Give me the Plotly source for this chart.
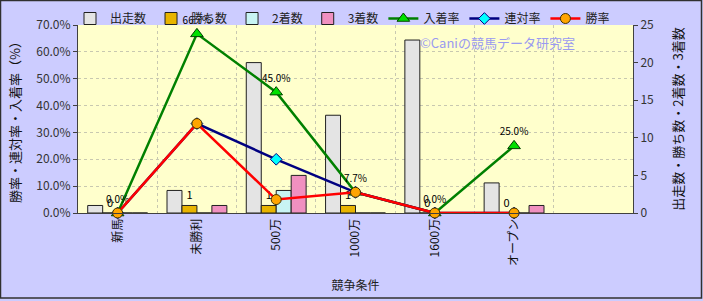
import plotly.graph_objects as go

categories = ["新馬", "未勝利", "500万", "1000万", "1600万", "オープン", " "]
starts = [1, 3, 20, 13, 23, 4]
wins = [0, 1, 1, 1, 0, 0]
seconds = [0, 0, 3, 0, 0, 0]
thirds = [0, 1, 5, 0, 0, 1]
place_rate = [0.0, 66.7, 45.0, 7.7, 0.0, 25.0]
rentai_rate = [0.0, 33.3, 20.0, 7.7, 0.0, 0.0]
win_rate = [0.0, 33.3, 5.0, 7.7, 0.0, 0.0]

cats = categories[:6]
FONT = "Noto Sans CJK JP"
W, H = 703, 301
L, R, T, B = 78, 70, 25, 88
PW, PH = W - L - R, H - T - B

def px_x(px):
    return (px - L) / PW

def px_y(py):
    return (H - B - py) / PH

bar_line = dict(color="#202020", width=1)

fig = go.Figure()

# invisible anchor trace so that the base (percentage) subplot exists
fig.add_trace(go.Scatter(x=cats, y=place_rate, yaxis="y", mode="none",
                         showlegend=False, hoverinfo="skip"))

fig.add_trace(go.Bar(x=cats, y=starts, name="出走数", yaxis="y2",
                     marker=dict(color="#E4E4E4", line=bar_line)))
fig.add_trace(go.Bar(x=cats, y=wins, name="勝ち数", yaxis="y2",
                     marker=dict(color="#E8B400", line=bar_line),
                     text=[str(v) for v in wins], textposition="outside",
                     textfont=dict(size=11, color="black", family=FONT),
                     cliponaxis=False))
fig.add_trace(go.Bar(x=cats, y=seconds, name="2着数", yaxis="y2",
                     marker=dict(color="#C8F4F4", line=bar_line)))
fig.add_trace(go.Bar(x=cats, y=thirds, name="3着数", yaxis="y2",
                     marker=dict(color="#F090C0", line=bar_line)))

fig.add_trace(go.Scatter(x=cats, y=place_rate, name="入着率", yaxis="y3",
                         mode="lines+markers+text",
                         line=dict(color="#008000", width=2.5),
                         marker=dict(symbol="triangle-up", size=11, color="#00E000",
                                     line=dict(color="#004000", width=1)),
                         text=[f"{v:.1f}%" for v in place_rate],
                         textposition="top center",
                         textfont=dict(size=10, color="black", family=FONT),
                         cliponaxis=False))
fig.add_trace(go.Scatter(x=cats, y=rentai_rate, name="連対率", yaxis="y3",
                         mode="lines+markers",
                         line=dict(color="#000080", width=2.5),
                         marker=dict(symbol="diamond", size=9, color="#00FFFF",
                                     line=dict(color="#000080", width=1)),
                         cliponaxis=False))
fig.add_trace(go.Scatter(x=cats, y=win_rate, name="勝率", yaxis="y3",
                         mode="lines+markers",
                         line=dict(color="#FF0000", width=2.5),
                         marker=dict(symbol="circle", size=10, color="#FFA500",
                                     line=dict(color="#403000", width=1)),
                         cliponaxis=False))

fig.update_layout(
    width=W, height=H,
    margin=dict(l=L, r=R, t=T, b=B, pad=0, autoexpand=False),
    paper_bgcolor="#CCCCFF",
    plot_bgcolor="#FFFFCC",
    font=dict(family=FONT, size=11, color="#222222"),
    barmode="group", bargap=0.245, bargroupgap=0,
    showlegend=True,
    legend=dict(orientation="h", x=px_x(70), xanchor="left",
                y=px_y(4), yanchor="top",
                bgcolor="rgba(0,0,0,0)", font=dict(size=12, color="#222222", family=FONT),
                itemwidth=30, tracegroupgap=0, traceorder="normal"),
    xaxis=dict(type="category", categoryorder="array", categoryarray=categories,
               range=[-0.5, 6.5], tickson="boundaries", ticks="", ticklen=0,
               showgrid=True, gridcolor="#C8C8B0", griddash="dot", gridwidth=1,
               showline=True, linecolor="#404040", linewidth=1,
               tickangle=-90, tickfont=dict(size=12, color="#111111"),
               title=dict(text="競争条件", font=dict(size=12, color="#222222"), standoff=16)),
    yaxis=dict(range=[0, 70], dtick=10, tickformat=".1f", ticksuffix="%",
               showgrid=True, gridcolor="#C8C8B0", griddash="dot", gridwidth=1,
               showline=True, linecolor="#404040", linewidth=1,
               ticks="outside", ticklen=4, tickcolor="#404040",
               zeroline=False, tickfont=dict(size=12, color="#333333"),
               title=dict(text="勝率・連対率・入着率（%）", font=dict(size=13, color="#111111"), standoff=12)),
    yaxis2=dict(range=[0, 25], dtick=5, overlaying="y", side="right",
                showgrid=False, zeroline=False,
                showline=True, linecolor="#404040", linewidth=1,
                ticks="outside", ticklen=4, tickcolor="#404040",
                tickfont=dict(size=12, color="#333333"),
                title=dict(text="出走数・勝ち数・2着数・3着数", font=dict(size=13, color="#111111"), standoff=20)),
    yaxis3=dict(range=[0, 70], overlaying="y", visible=False, showgrid=False, zeroline=False),
    annotations=[dict(text="©Caniの競馬データ研究室", xref="paper", yref="paper",
                      x=px_x(497), y=px_y(43), xanchor="center", yanchor="middle",
                      showarrow=False, font=dict(size=13, color="#9A9AF0", family=FONT))],
    shapes=[dict(type="rect", xref="paper", yref="paper",
                 x0=px_x(0.5), x1=px_x(701.5), y0=px_y(298), y1=px_y(0.5),
                 line=dict(color="#303030", width=1.5), fillcolor="rgba(0,0,0,0)", layer="above")],
)

fig.write_html("out.html")
